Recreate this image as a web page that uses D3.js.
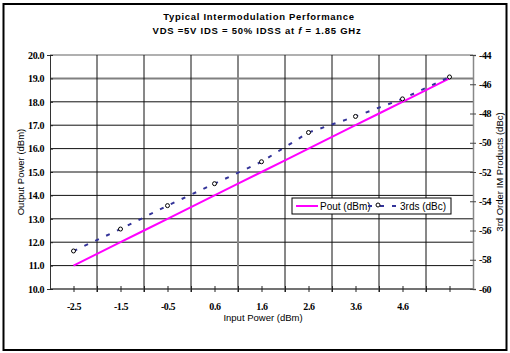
<!DOCTYPE html>
<html>
<head>
<meta charset="utf-8">
<script src="https://cdn.jsdelivr.net/npm/d3@7"></script>
<style>
  body { margin: 0; background: #fff; }
  svg text { fill: #000; }
</style>
</head>
<body>
<div id="chart"></div>
<script>
'use strict'

// input power categories (x axis, every other one labelled)
const inputPower = ['-2.5', '-2.0', '-1.5', '-1.0', '-0.5', '0.1', '0.6', '1.1', '1.6',
                    '2.1', '2.6', '3.1', '3.6', '4.1', '4.6', '5.1', '5.6']
const tickLabels = ['-2.5', '-1.5', '-0.5', '0.6', '1.6', '2.6', '3.6', '4.6']

// output power (dBm), left axis
const pout = [11.0, 11.5, 12.0, 12.5, 13.0, 13.5, 14.0, 14.5, 15.0,
              15.5, 16.0, 16.5, 17.0, 17.5, 18.0, 18.5, 19.0]

// 3rd order IM products (dBc), right axis
const imdInput = ['-2.5', '-1.5', '-0.5', '0.6', '1.6', '2.6', '3.6', '4.6', '5.6']
const imd3 = [-57.4, -55.9, -54.3, -52.8, -51.3, -49.3, -48.2, -47.0, -45.5]

const leftTicks = [10, 11, 12, 13, 14, 15, 16, 17, 18, 19, 20]
const rightTicks = [-44, -46, -48, -50, -52, -54, -56, -58, -60]

////////////////////////////////////
//////////// svg setup /////////////
////////////////////////////////////
const svgWidth = 510, svgHeight = 353
const margin = { left: 50, right: 37, top: 55, bottom: 64 }
const width = svgWidth - margin.left - margin.right
const height = svgHeight - margin.top - margin.bottom

const root = d3.select('#chart').append('svg')
    .attr('width', svgWidth)
    .attr('height', svgHeight)

// outer frame
root.append('rect')
    .attr('x', 3.5).attr('y', 4)
    .attr('width', 503).attr('height', 346)
    .attr('fill', 'none').attr('stroke', '#000').attr('stroke-width', 2)

const svg = root.append('g')
    .attr('transform', `translate(${margin.left},${margin.top})`)

const x = d3.scalePoint().domain(inputPower).range([0, width]).padding(1)
const y = d3.scaleLinear().domain([10, 20]).range([height, 0])
const y2 = d3.scaleLinear().domain([-60, -44]).range([height, 0])

////////////////////////////////////
//////////// gridlines /////////////
////////////////////////////////////
svg.selectAll('.hgrid')
    .data(leftTicks.filter(d => d > 10))
    .join('line')
    .attr('x1', 0).attr('x2', width)
    .attr('y1', d => y(d)).attr('y2', d => y(d))
    .attr('stroke', d => d == 20 ? '#b0b0b0' : d == 19 ? '#808080' : '#111')
    .attr('stroke-width', d => d >= 19 ? 2 : 1)

svg.selectAll('.vgrid')
    .data(inputPower.filter((d, i) => i % 2 == 1 && i < 16))
    .join('line')
    .attr('x1', d => x(d)).attr('x2', d => x(d))
    .attr('y1', 0).attr('y2', height + 3)
    .attr('stroke', d => d == '1.1' ? '#888' : '#111')
    .attr('stroke-width', d => d == '1.1' ? 2 : 1)

////////////////////////////////////
////////////// axes ////////////////
////////////////////////////////////
const xAxis = svg.append('g')
    .attr('transform', `translate(0,${height})`)
    .call(d3.axisBottom(x).tickSizeInner(3).tickSizeOuter(0).tickFormat(d => tickLabels.includes(d) ? d : ''))
xAxis.select('.domain').attr('stroke', '#444').attr('stroke-width', 1.5).attr('d', `M0,0H${width}`)
xAxis.selectAll('.tick line').attr('y1', -3).attr('stroke', '#222')
xAxis.selectAll('text').attr('dy', '1.45em')

const yAxis = svg.append('g')
    .call(d3.axisLeft(y).tickValues(leftTicks).tickSize(3).tickFormat(d3.format('.1f')))
yAxis.select('.domain').attr('stroke', '#333')
yAxis.selectAll('.tick line').attr('x2', 3).attr('stroke', '#222')

const yAxis2 = svg.append('g')
    .attr('transform', `translate(${width},0)`)
    .call(d3.axisRight(y2).tickValues(rightTicks).tickSize(3))
yAxis2.select('.domain').attr('stroke', '#888').attr('stroke-width', 1.5)
yAxis2.selectAll('.tick line').attr('x1', -3).attr('stroke', '#444')
yAxis2.selectAll('text').text(d => '-' + Math.abs(d)).attr('x', 6)

svg.selectAll('.tick text')
    .style('font-family', '"Liberation Serif", serif')
    .style('font-weight', 'bold')
    .style('font-size', '10px')
    .style('letter-spacing', '-0.4px')

////////////////////////////////////
////////////// series //////////////
////////////////////////////////////
const poutLine = d3.line().x((d, i) => x(inputPower[i])).y(d => y(d))
svg.append('path')
    .datum(pout)
    .attr('d', poutLine)
    .attr('fill', 'none')
    .attr('stroke', '#ff00ff')
    .attr('stroke-width', 2)

const imdLine = d3.line().x((d, i) => x(imdInput[i])).y(d => y2(d))
svg.append('path')
    .datum(imd3)
    .attr('d', imdLine)
    .attr('fill', 'none')
    .attr('stroke', '#333399')
    .attr('stroke-width', 2)
    .attr('stroke-dasharray', '4,8')

svg.selectAll('.marker')
    .data(imd3)
    .join('circle')
    .attr('cx', (d, i) => x(imdInput[i]))
    .attr('cy', d => y2(d))
    .attr('r', 2)
    .attr('fill', '#fff')
    .attr('stroke', '#000')
    .attr('stroke-width', 1)

////////////////////////////////////
////////////// legend //////////////
////////////////////////////////////
const legend = svg.append('g').attr('transform', `translate(${292 - margin.left},${198 - margin.top})`)
legend.append('rect')
    .attr('width', 159).attr('height', 16)
    .attr('fill', '#fff').attr('stroke', '#000').attr('stroke-width', 1)
legend.append('line')
    .attr('x1', 4).attr('x2', 26).attr('y1', 8).attr('y2', 8)
    .attr('stroke', '#ff00ff').attr('stroke-width', 2)
legend.append('text')
    .attr('x', 28).attr('y', 11.5).text('Pout (dBm)')
legend.append('line')
    .attr('x1', 76).attr('x2', 104).attr('y1', 8).attr('y2', 8)
    .attr('stroke', '#333399').attr('stroke-width', 2).attr('stroke-dasharray', '4,8')
legend.append('circle')
    .attr('cx', 86).attr('cy', 7).attr('r', 2)
    .attr('fill', '#fff').attr('stroke', '#000')
legend.append('text')
    .attr('x', 108).attr('y', 11.5).text('3rds (dBc)')
legend.selectAll('text')
    .style('font-family', '"Liberation Sans", Arial, sans-serif')
    .style('font-size', '10px')

////////////////////////////////////
////////////// titles //////////////
////////////////////////////////////
const title = root.append('text')
    .attr('text-anchor', 'middle')
    .style('font-family', '"Liberation Sans", Arial, sans-serif')
    .style('font-weight', 'bold')
    .style('font-size', '9.5px')
title.append('tspan').attr('x', 259).attr('y', 20)
    .style('letter-spacing', '0.7px')
    .text('Typical Intermodulation Performance')
const t2 = title.append('tspan').attr('x', 257).attr('y', 34).style('letter-spacing', '0.75px')
t2.append('tspan').text('VDS =5V IDS = 50% IDSS at ')
t2.append('tspan').style('font-style', 'italic').text('f')
t2.append('tspan').text(' = 1.85 GHz')

const axisTitle = (txt, tx, ty, rot) => root.append('text')
    .attr('transform', `translate(${tx},${ty}) rotate(${rot})`)
    .attr('text-anchor', 'middle')
    .style('font-family', '"Liberation Sans", Arial, sans-serif')
    .style('font-size', '9.5px')
    .text(txt)

axisTitle('Input Power (dBm)', 263, 321, 0)
axisTitle('Output Power (dBm)', 24, 172, -90)
axisTitle('3rd Order IM Products (dBc)', 503, 172, -90)
</script>
</body>
</html>
